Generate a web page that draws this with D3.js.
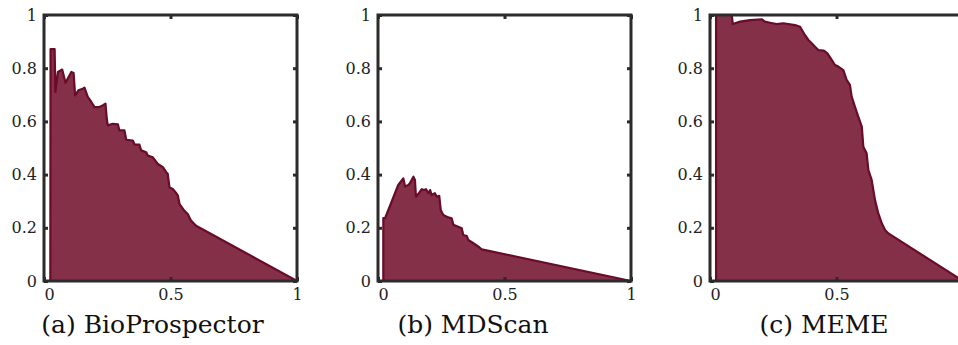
<!DOCTYPE html>
<html>
<head>
<meta charset="utf-8">
<script src="https://cdn.jsdelivr.net/npm/d3@7"></script>
<style>
  html, body { margin: 0; padding: 0; background: #fff; }
  svg { display: block; }
</style>
</head>
<body>
<svg id="chart" width="958" height="345"></svg>
<script>
// ---- data: [recall, precision] points ----
const bioProspector = [
  [0.025, 0], [0.026, 0.872], [0.042, 0.872], [0.045, 0.711], [0.055, 0.786],
  [0.072, 0.795], [0.085, 0.745], [0.108, 0.786], [0.117, 0.782], [0.123, 0.698],
  [0.136, 0.717], [0.153, 0.723], [0.160, 0.727], [0.173, 0.692], [0.187, 0.673],
  [0.200, 0.654], [0.219, 0.654], [0.232, 0.660], [0.243, 0.667], [0.248, 0.610],
  [0.252, 0.585], [0.272, 0.591], [0.292, 0.589], [0.298, 0.566], [0.318, 0.566],
  [0.325, 0.531], [0.351, 0.528], [0.358, 0.513], [0.377, 0.513], [0.384, 0.491],
  [0.404, 0.484], [0.410, 0.472], [0.430, 0.465], [0.450, 0.440], [0.470, 0.428],
  [0.483, 0.409], [0.489, 0.403], [0.496, 0.352], [0.509, 0.346], [0.523, 0.330],
  [0.529, 0.321], [0.536, 0.289], [0.555, 0.264], [0.568, 0.252], [0.582, 0.226],
  [0.601, 0.208], [1.000, 0.000]
];
const mdScan = [
  [0.021, 0], [0.021, 0.236], [0.028, 0.236], [0.080, 0.361], [0.100, 0.386],
  [0.107, 0.355], [0.120, 0.361], [0.126, 0.367], [0.140, 0.392], [0.146, 0.380],
  [0.150, 0.317], [0.163, 0.332], [0.173, 0.345], [0.182, 0.342], [0.190, 0.345],
  [0.199, 0.330], [0.206, 0.342], [0.212, 0.323], [0.225, 0.330], [0.232, 0.317],
  [0.242, 0.320], [0.248, 0.267], [0.258, 0.248], [0.278, 0.239], [0.291, 0.236],
  [0.298, 0.211], [0.317, 0.204], [0.331, 0.198], [0.337, 0.173], [0.351, 0.169],
  [0.357, 0.154], [0.377, 0.142], [0.400, 0.127], [0.410, 0.119], [1.000, 0.000]
];
const meme = [
  [0.024, 0], [0.024, 1.000], [0.086, 1.000], [0.090, 0.966], [0.119, 0.975],
  [0.158, 0.981], [0.204, 0.984], [0.217, 0.975], [0.237, 0.971], [0.264, 0.966],
  [0.290, 0.969], [0.336, 0.962], [0.356, 0.956], [0.375, 0.925], [0.389, 0.906],
  [0.402, 0.894], [0.415, 0.881], [0.428, 0.868], [0.450, 0.866], [0.464, 0.856],
  [0.481, 0.831], [0.494, 0.812], [0.507, 0.806], [0.527, 0.793], [0.540, 0.756],
  [0.553, 0.737], [0.560, 0.693], [0.573, 0.655], [0.586, 0.618], [0.600, 0.580],
  [0.606, 0.505], [0.619, 0.480], [0.626, 0.417], [0.639, 0.380], [0.652, 0.305],
  [0.665, 0.255], [0.679, 0.217], [0.692, 0.192], [0.705, 0.179], [1.000, 0.000]
];
const series = [bioProspector, mdScan, meme];
const captions = ["(a) BioProspector", "(b) MDScan", "(c) MEME"];
const xTicks = [0, 0.5, 1];
const yTicks = [0, 0.2, 0.4, 0.6, 0.8, 1];
const xTickLabels = ["0", "0.5", "1"];
const yTickLabels = ["0", "0.2", "0.4", "0.6", "0.8", "1"];

// ---- layout ----
const panelLeft = [44, 378, 710];
const captionCenter = [152.5, 473, 824];
const plotTop = 15, W = 253, H = 266;
const viewW = 958;
const fillColor = "#843049", lineColor = "#6a0b28", axisColor = "#2b2b2b";
const fontTick = "'DejaVu Serif', 'Liberation Serif', serif";

const svg = d3.select("#chart");
const x = d3.scaleLinear().domain([0, 1]).range([0, W]);
const y = d3.scaleLinear().domain([0, 1]).range([H, 0]);

const area = d3.area().x(d => x(d[0])).y0(y(0)).y1(d => y(d[1]));
const line = d3.line().x(d => x(d[0])).y(d => y(d[1]));

series.forEach((data, i) => {
  const g = svg.append("g").attr("transform", `translate(${panelLeft[i]},${plotTop})`);

  g.append("path").datum(data).attr("d", area).attr("fill", fillColor);
  g.append("path").datum(data).attr("d", line)
    .attr("fill", "none").attr("stroke", lineColor)
    .attr("stroke-width", 2.2).attr("stroke-linejoin", "round");

  // axes (ticks inside, labels outside); labels beyond the page edge are not shown
  const fmtX = (d, j) => (panelLeft[i] + x(d) + 4 > viewW ? "" : xTickLabels[j]);
  const fmtY = (d, j) => yTickLabels[j];
  const axB = g.append("g").attr("transform", `translate(0,${H})`)
    .call(d3.axisBottom(x).tickValues(xTicks).tickFormat(fmtX).tickSizeInner(-4).tickSizeOuter(0).tickPadding(8));
  const axT = g.append("g")
    .call(d3.axisTop(x).tickValues(xTicks).tickFormat("").tickSizeInner(-4).tickSizeOuter(0));
  const axL = g.append("g")
    .call(d3.axisLeft(y).tickValues(yTicks).tickFormat(fmtY).tickSizeInner(-4).tickSizeOuter(0).tickPadding(7));
  const axR = g.append("g").attr("transform", `translate(${W},0)`)
    .call(d3.axisRight(y).tickValues(yTicks).tickFormat("").tickSizeInner(-4).tickSizeOuter(0));

  [axB, axT, axL, axR].forEach(a => {
    a.select(".domain").remove();
    a.selectAll("line").attr("stroke", axisColor).attr("stroke-width", 3);
    a.selectAll("text").attr("fill", "#222").style("font-family", fontTick).style("font-size", "16px");
  });
  // the "0" label on the x axis sits slightly right of its tick
  axB.selectAll(".tick text").filter((d) => d === 0).attr("dx", 5);

  // frame
  g.append("rect").attr("x", 0).attr("y", 0).attr("width", W).attr("height", H)
    .attr("fill", "none").attr("stroke", axisColor).attr("stroke-width", 3);

  // caption
  svg.append("text")
    .attr("x", captionCenter[i]).attr("y", 333)
    .attr("text-anchor", "middle")
    .style("font-family", fontTick).style("font-size", "25px").attr("fill", "#111")
    .text(captions[i]);
});
</script>
</body>
</html>
